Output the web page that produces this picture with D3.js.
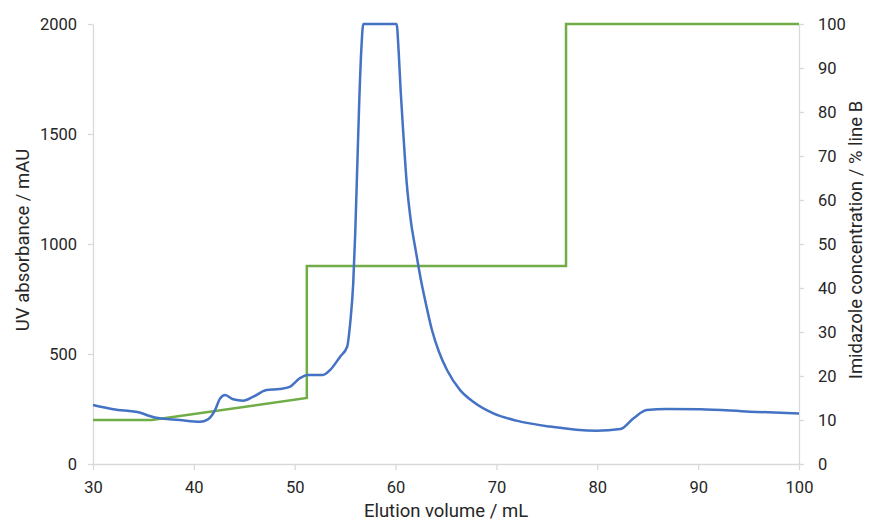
<!DOCTYPE html>
<html><head><meta charset="utf-8">
<script src="https://cdn.jsdelivr.net/npm/d3@7"></script>
<style>body{margin:0;background:#fff;font-family:Roboto,"Liberation Sans",sans-serif}</style>
</head><body><svg id="c" width="870" height="521"></svg>
<script>
const uvVolume = [30,32,34.7,35.3,36.3,38.6,40.6,41.4,42.1,42.6,43.1,43.9,44.9,45.9,47.2,48.5,49.5,50.5,51.3,52.8,53.5,54.5,55.2,55.5,55.8,56.0,56.2,56.4,56.6,56.8,60.1,60.3,60.5,60.8,61.1,61.5,62.0,62.5,63.0,63.6,64.3,65.1,66.4,67.7,69.7,72.0,75.3,79.9,82.3,83.6,84.9,86.9,90.2,95.1,100];
const uvAbs    = [268,249,233,223,210,200,192,203,245,298,314,294,288,306,336,341,351,390,405,405,427,488,533,640,820,1050,1350,1650,1880,2000,2000,1880,1700,1480,1280,1110,970,840,730,610,510,427,336,283,230,197,170,151,159,208,245,250,249,238,230];
const gradVolume = [30,35.8,51.2,51.2,76.9,76.9,100];
const gradPercent = [10,10,15,45,45,100,100];
const xTicks = [30,40,50,60,70,80,90,100];
const yLeftTicks = [0,500,1000,1500,2000];
const yRightTicks = [0,10,20,30,40,50,60,70,80,90,100];

const svg = d3.select("#c");
const L=93,R=799,T=24,B=464;
const x = d3.scaleLinear().domain([30,100]).range([L,R]);
const y = d3.scaleLinear().domain([0,2000]).range([B,T]);
const y2 = d3.scaleLinear().domain([0,100]).range([B,T]);
const axisCol="#d9d9d9", txtCol="#262626";
const fmt = d3.format("d");

function style(g){
  g.select(".domain").attr("stroke",axisCol).attr("stroke-width",1.3);
  g.selectAll(".tick line").attr("stroke",axisCol).attr("stroke-width",1.3);
  g.selectAll(".tick text").attr("fill",txtCol).style("font-size","16.5px").style("font-family","Roboto,sans-serif");
}
svg.append("g").attr("transform",`translate(0,${B})`)
  .call(d3.axisBottom(x).tickValues(xTicks).tickFormat(fmt).tickSize(6).tickSizeOuter(0).tickPadding(11)).call(style);
svg.append("g").attr("transform",`translate(${L},0)`)
  .call(d3.axisLeft(y).tickValues(yLeftTicks).tickFormat(fmt).tickSize(5).tickSizeOuter(0).tickPadding(11)).call(style);
svg.append("g").attr("transform",`translate(${R},0)`)
  .call(d3.axisRight(y2).tickValues(yRightTicks).tickFormat(fmt).tickSize(5).tickSizeOuter(0).tickPadding(14)).call(style);

const uv = uvVolume.map((v,i)=>[v,uvAbs[i]]);
const grad = gradVolume.map((v,i)=>[v,gradPercent[i]]);

svg.append("path").datum(grad).attr("fill","none").attr("stroke","#70AD47").attr("stroke-width",2.5)
  .attr("d",d3.line().x(d=>x(d[0])).y(d=>y2(d[1])));
svg.append("path").datum(uv).attr("fill","none").attr("stroke","#4472C4").attr("stroke-width",2.5)
  .attr("stroke-linejoin","round")
  .attr("d",d3.line().x(d=>x(d[0])).y(d=>y(d[1])).curve(d3.curveMonotoneX));

const tf = "18.5px";
svg.append("text").attr("x",446).attr("y",517).attr("text-anchor","middle")
  .attr("fill",txtCol).style("font-size",tf).text("Elution volume / mL");
svg.append("text").attr("transform",`translate(29,240) rotate(-90)`).attr("text-anchor","middle")
  .attr("fill",txtCol).style("font-size",tf).text("UV absorbance / mAU");
svg.append("text").attr("transform",`translate(862,240) rotate(-90)`).attr("text-anchor","middle")
  .attr("fill",txtCol).style("font-size",tf).text("Imidazole concentration / % line B");
</script></body></html>
